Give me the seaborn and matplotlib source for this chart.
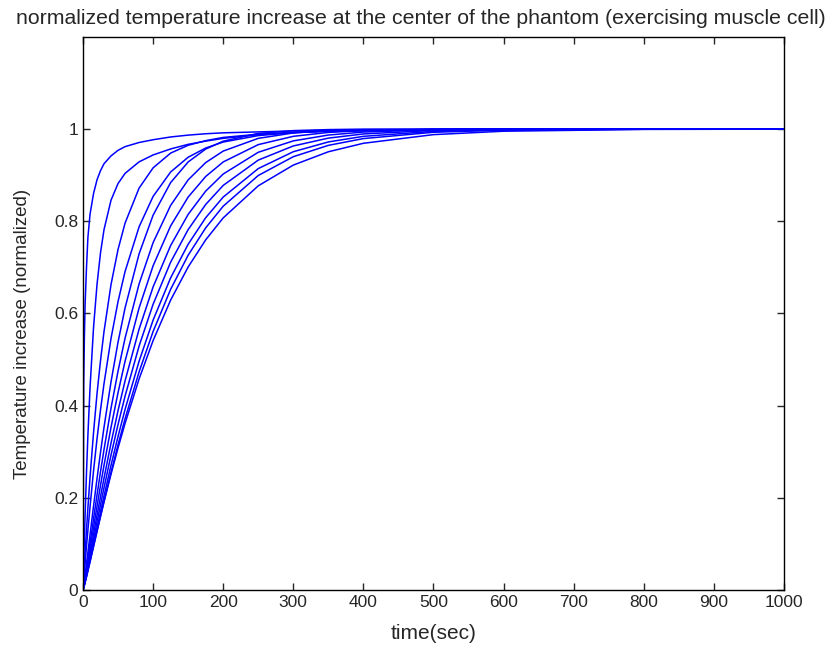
import pandas as pd
import seaborn as sns
import matplotlib.pyplot as plt

# time points (sec)
time_sec = [0, 1, 2, 3, 5, 7, 10, 15, 20, 25, 30, 40, 50, 60, 80, 100, 125, 150, 175,
            200, 250, 300, 350, 400, 500, 600, 800, 1000]

# normalized temperature increase, one list per curve (fastest first)
c0 = [0, 0.45, 0.55, 0.62, 0.70, 0.765, 0.815, 0.86, 0.89, 0.91, 0.925, 0.942, 0.954, 0.962,
      0.971, 0.977, 0.983, 0.987, 0.99, 0.992, 0.994, 0.996, 0.997, 0.998, 0.999, 0.999, 1.0, 1.0]
c1 = [0, 0.058, 0.113, 0.163, 0.255, 0.336, 0.438, 0.569, 0.663, 0.732, 0.782, 0.846, 0.882,
      0.904, 0.929, 0.944, 0.957, 0.967, 0.974, 0.980, 0.988, 0.9925, 0.9955, 0.997, 0.999,
      1.0, 1.0, 1.0]
c2 = [0, 0.028, 0.055, 0.081, 0.131, 0.178, 0.244, 0.341, 0.426, 0.498, 0.561, 0.663, 0.739,
      0.796, 0.872, 0.916, 0.948, 0.965, 0.975, 0.982, 0.989, 0.993, 0.996, 0.997, 0.999,
      1.0, 1.0, 1.0]
c3 = [0, 0.020, 0.039, 0.058, 0.095, 0.130, 0.180, 0.258, 0.328, 0.391, 0.448, 0.546, 0.626,
      0.691, 0.788, 0.854, 0.907, 0.939, 0.959, 0.972, 0.986, 0.9925, 0.9956, 0.997, 0.999,
      0.9995, 1.0, 1.0]
c4 = [0, 0.0096, 0.0208, 0.0325, 0.0569, 0.0819, 0.1195, 0.1816, 0.2416, 0.2989, 0.3532,
      0.4519, 0.5379, 0.612, 0.7293, 0.8133, 0.884, 0.9288, 0.9567, 0.9739, 0.9907, 0.9968,
      0.999, 1.0, 1.0, 1.0, 1.0, 1.0]
c5 = [0, 0.008, 0.0174, 0.0272, 0.0477, 0.0688, 0.1008, 0.1541, 0.2063, 0.2566, 0.305,
      0.3947, 0.4751, 0.5464, 0.6641, 0.7537, 0.8345, 0.8899, 0.9274, 0.9524, 0.98, 0.9917,
      0.9967, 0.9987, 1.0, 1.0, 1.0, 1.0]
c6 = [0, 0.007, 0.0151, 0.0236, 0.0415, 0.0599, 0.0881, 0.1352, 0.1816, 0.227, 0.2707,
      0.3532, 0.4284, 0.4964, 0.612, 0.7035, 0.79, 0.8526, 0.8972, 0.9288, 0.9664, 0.9844,
      0.9929, 0.9968, 0.9994, 1.0, 1.0, 1.0]
c7 = [0, 0.0061, 0.0133, 0.0209, 0.0367, 0.053, 0.0781, 0.1202, 0.162, 0.203, 0.2429,
      0.3189, 0.3893, 0.4538, 0.566, 0.6576, 0.7474, 0.815, 0.8655, 0.9026, 0.9498, 0.9745,
      0.9872, 0.9937, 0.9985, 0.9997, 1.0, 1.0]
c8 = [0, 0.0055, 0.012, 0.0189, 0.0332, 0.048, 0.0708, 0.1092, 0.1474, 0.1852, 0.2222,
      0.293, 0.3592, 0.4207, 0.5293, 0.62, 0.7113, 0.782, 0.8365, 0.8779, 0.9328, 0.9635,
      0.9805, 0.9896, 0.9972, 0.9993, 1.0, 1.0]
c9 = [0, 0.0051, 0.0109, 0.0172, 0.0302, 0.0438, 0.0646, 0.0999, 0.1352, 0.1701, 0.2044,
      0.2707, 0.3332, 0.3917, 0.4964, 0.5856, 0.6773, 0.7502, 0.8077, 0.8526, 0.9144, 0.951,
      0.9722, 0.9844, 0.9952, 0.9986, 1.0, 1.0]
c10 = [0, 0.0047, 0.0102, 0.0161, 0.0283, 0.041, 0.0605, 0.0936, 0.1269, 0.1599, 0.1924,
       0.2554, 0.3152, 0.3715, 0.4732, 0.5609, 0.6524, 0.7264, 0.7857, 0.8328, 0.8994, 0.9402,
       0.9648, 0.9795, 0.9932, 0.9978, 0.9998, 1.0]
c11 = [0, 0.0054, 0.0113, 0.0175, 0.0302, 0.0431, 0.0627, 0.0955, 0.128, 0.16, 0.1913,
       0.2514, 0.3083, 0.3615, 0.4579, 0.5412, 0.629, 0.7009, 0.7597, 0.8074, 0.877, 0.922,
       0.9509, 0.9693, 0.9881, 0.9955, 0.9994, 1.0]

curves = [c0, c1, c2, c3, c4, c5, c6, c7, c8, c9, c10, c11]

frames = []
for i, vals in enumerate(curves):
    frames.append(pd.DataFrame({'time': time_sec, 'temp': vals, 'curve': i}))
df = pd.concat(frames, ignore_index=True)

sns.set_style('ticks')
plt.rcParams['font.family'] = ['Liberation Sans', 'DejaVu Sans']

fig = plt.figure(figsize=(8.35, 6.52), dpi=100)
ax = fig.add_axes([0.0994, 0.0951, 0.8395, 0.8482])

sns.lineplot(data=df, x='time', y='temp', units='curve', estimator=None,
             color='#0000ff', linewidth=1.1, ax=ax, legend=False)

ax.set_xlim(0, 1000)
ax.set_ylim(0, 1.2)
ax.set_xticks(range(0, 1001, 100))
ax.set_yticks([0, 0.2, 0.4, 0.6, 0.8, 1.0])
ax.set_yticklabels(['0', '0.2', '0.4', '0.6', '0.8', '1'])
ax.tick_params(direction='in', top=True, right=True, labelsize=12.5, length=5, width=1)
for s in ax.spines.values():
    s.set_visible(True)
    s.set_linewidth(1)
    s.set_color('black')

ax.set_title('normalized temperature increase at the center of the phantom (exercising muscle cell)',
             fontsize=15.3, pad=9, x=0.482)
ax.set_xlabel('time(sec)', fontsize=15, labelpad=10)
ax.set_ylabel('Temperature increase (normalized)', fontsize=13.5)
ax.yaxis.set_label_coords(-0.074, 0.463)

fig.savefig('out.png', dpi=100, facecolor='white')
